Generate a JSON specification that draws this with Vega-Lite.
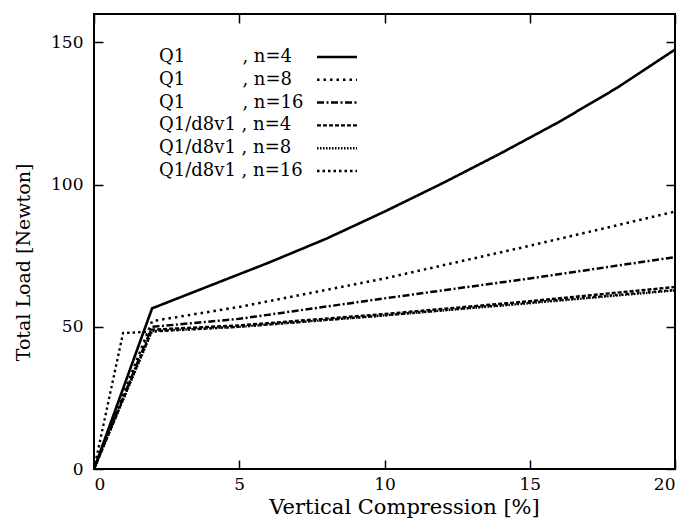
{
  "$schema": "https://vega.github.io/schema/vega-lite/v6.json",
  "width": 581,
  "height": 455,
  "autosize": "none",
  "padding": {"left": 94, "top": 14, "right": 12, "bottom": 58},
  "background": "white",
  "config": {
    "view": {"stroke": "black", "strokeWidth": 2},
    "font": "DejaVu Serif",
    "axis": {"grid": false, "domain": false, "tickColor": "black", "tickWidth": 1.5, "tickSize": -9, "labelFont": "DejaVu Serif", "labelFontSize": 17, "labelColor": "black", "titleFont": "DejaVu Serif", "titleFontWeight": "normal", "titleColor": "black"},
    "legend": {"labelFont": "DejaVu Serif"}
  },
  "datasets": {
    "curves": [
      {"series": "Q1\u00a0\u00a0\u00a0\u00a0\u00a0\u00a0\u00a0\u00a0\u00a0\u00a0, n=4", "x": 0, "y": 0},
      {"series": "Q1\u00a0\u00a0\u00a0\u00a0\u00a0\u00a0\u00a0\u00a0\u00a0\u00a0, n=4", "x": 2, "y": 56.5},
      {"series": "Q1\u00a0\u00a0\u00a0\u00a0\u00a0\u00a0\u00a0\u00a0\u00a0\u00a0, n=4", "x": 4, "y": 64.5},
      {"series": "Q1\u00a0\u00a0\u00a0\u00a0\u00a0\u00a0\u00a0\u00a0\u00a0\u00a0, n=4", "x": 6, "y": 72.5},
      {"series": "Q1\u00a0\u00a0\u00a0\u00a0\u00a0\u00a0\u00a0\u00a0\u00a0\u00a0, n=4", "x": 8, "y": 81},
      {"series": "Q1\u00a0\u00a0\u00a0\u00a0\u00a0\u00a0\u00a0\u00a0\u00a0\u00a0, n=4", "x": 10, "y": 90.5},
      {"series": "Q1\u00a0\u00a0\u00a0\u00a0\u00a0\u00a0\u00a0\u00a0\u00a0\u00a0, n=4", "x": 12, "y": 100.5},
      {"series": "Q1\u00a0\u00a0\u00a0\u00a0\u00a0\u00a0\u00a0\u00a0\u00a0\u00a0, n=4", "x": 14, "y": 111},
      {"series": "Q1\u00a0\u00a0\u00a0\u00a0\u00a0\u00a0\u00a0\u00a0\u00a0\u00a0, n=4", "x": 16, "y": 122},
      {"series": "Q1\u00a0\u00a0\u00a0\u00a0\u00a0\u00a0\u00a0\u00a0\u00a0\u00a0, n=4", "x": 18, "y": 134},
      {"series": "Q1\u00a0\u00a0\u00a0\u00a0\u00a0\u00a0\u00a0\u00a0\u00a0\u00a0, n=4", "x": 20, "y": 147.5},
      {"series": "Q1\u00a0\u00a0\u00a0\u00a0\u00a0\u00a0\u00a0\u00a0\u00a0\u00a0, n=8", "x": 0, "y": 0},
      {"series": "Q1\u00a0\u00a0\u00a0\u00a0\u00a0\u00a0\u00a0\u00a0\u00a0\u00a0, n=8", "x": 2, "y": 52},
      {"series": "Q1\u00a0\u00a0\u00a0\u00a0\u00a0\u00a0\u00a0\u00a0\u00a0\u00a0, n=8", "x": 5, "y": 57},
      {"series": "Q1\u00a0\u00a0\u00a0\u00a0\u00a0\u00a0\u00a0\u00a0\u00a0\u00a0, n=8", "x": 10, "y": 67},
      {"series": "Q1\u00a0\u00a0\u00a0\u00a0\u00a0\u00a0\u00a0\u00a0\u00a0\u00a0, n=8", "x": 15, "y": 78.5},
      {"series": "Q1\u00a0\u00a0\u00a0\u00a0\u00a0\u00a0\u00a0\u00a0\u00a0\u00a0, n=8", "x": 20, "y": 90.5},
      {"series": "Q1\u00a0\u00a0\u00a0\u00a0\u00a0\u00a0\u00a0\u00a0\u00a0\u00a0, n=16", "x": 0, "y": 0},
      {"series": "Q1\u00a0\u00a0\u00a0\u00a0\u00a0\u00a0\u00a0\u00a0\u00a0\u00a0, n=16", "x": 2, "y": 50},
      {"series": "Q1\u00a0\u00a0\u00a0\u00a0\u00a0\u00a0\u00a0\u00a0\u00a0\u00a0, n=16", "x": 5, "y": 52.8},
      {"series": "Q1\u00a0\u00a0\u00a0\u00a0\u00a0\u00a0\u00a0\u00a0\u00a0\u00a0, n=16", "x": 10, "y": 60},
      {"series": "Q1\u00a0\u00a0\u00a0\u00a0\u00a0\u00a0\u00a0\u00a0\u00a0\u00a0, n=16", "x": 15, "y": 67},
      {"series": "Q1\u00a0\u00a0\u00a0\u00a0\u00a0\u00a0\u00a0\u00a0\u00a0\u00a0, n=16", "x": 20, "y": 74.5},
      {"series": "Q1/d8v1\u00a0, n=4", "x": 0, "y": 0},
      {"series": "Q1/d8v1\u00a0, n=4", "x": 2, "y": 49},
      {"series": "Q1/d8v1\u00a0, n=4", "x": 5, "y": 50.5},
      {"series": "Q1/d8v1\u00a0, n=4", "x": 10, "y": 54.5},
      {"series": "Q1/d8v1\u00a0, n=4", "x": 15, "y": 59},
      {"series": "Q1/d8v1\u00a0, n=4", "x": 20, "y": 64},
      {"series": "Q1/d8v1\u00a0, n=8", "x": 0, "y": 0},
      {"series": "Q1/d8v1\u00a0, n=8", "x": 2, "y": 48.5},
      {"series": "Q1/d8v1\u00a0, n=8", "x": 5, "y": 50},
      {"series": "Q1/d8v1\u00a0, n=8", "x": 10, "y": 54},
      {"series": "Q1/d8v1\u00a0, n=8", "x": 15, "y": 58.3},
      {"series": "Q1/d8v1\u00a0, n=8", "x": 20, "y": 62.8},
      {"series": "Q1/d8v1\u00a0, n=16", "x": 0, "y": 0},
      {"series": "Q1/d8v1\u00a0, n=16", "x": 1, "y": 47.8},
      {"series": "Q1/d8v1\u00a0, n=16", "x": 2, "y": 48.3},
      {"series": "Q1/d8v1\u00a0, n=16", "x": 5, "y": 50},
      {"series": "Q1/d8v1\u00a0, n=16", "x": 10, "y": 54},
      {"series": "Q1/d8v1\u00a0, n=16", "x": 15, "y": 58.5},
      {"series": "Q1/d8v1\u00a0, n=16", "x": 20, "y": 63}
    ]
  },
  "data": {"name": "curves"},
  "layer": [
    {
      "mark": {"type": "line", "color": "black", "clip": true},
      "encoding": {
        "x": {"field": "x", "type": "quantitative", "scale": {"domain": [0, 20], "nice": false, "zero": false},
              "axis": {"values": [0, 5, 10, 15, 20], "title": "Vertical Compression [%]", "titleFont": "DejaVu Serif", "titleFontSize": 21, "labelPadding": 16, "titlePadding": 4, "titleX": 310}},
        "y": {"field": "y", "type": "quantitative", "scale": {"domain": [0, 160], "nice": false},
              "axis": {"values": [0, 50, 100, 150], "title": "Total Load [Newton]", "titleFont": "DejaVu Serif", "titleFontSize": 19, "labelPadding": 20, "titlePadding": 17, "titleY": 248}},
        "detail": {"field": "series"},
        "strokeDash": {"field": "series", "type": "nominal",
          "scale": {
            "domain": ["Q1\u00a0\u00a0\u00a0\u00a0\u00a0\u00a0\u00a0\u00a0\u00a0\u00a0, n=4", "Q1\u00a0\u00a0\u00a0\u00a0\u00a0\u00a0\u00a0\u00a0\u00a0\u00a0, n=8", "Q1\u00a0\u00a0\u00a0\u00a0\u00a0\u00a0\u00a0\u00a0\u00a0\u00a0, n=16", "Q1/d8v1\u00a0, n=4", "Q1/d8v1\u00a0, n=8", "Q1/d8v1\u00a0, n=16"],
            "range": [[1, 0], [2.5, 4], [7, 2.5, 2, 2.5], [4, 2], [1.5, 1.5], [2.5, 3]]
          },
          "legend": {
            "title": null, "orient": "none", "legendX": 234, "legendY": 34,
            "symbolType": "M-4,0H4", "symbolSize": 100, "symbolStrokeColor": "black", "symbolFillColor": "transparent", "symbolStrokeWidth": 2.5, "symbolOpacity": 1,
            "labelFontSize": 18, "labelColor": "black",
            "labelAlign": "left", "labelOffset": -187, "rowPadding": 4.8, "labelLimit": 400
          }
        },
        "strokeWidth": {"field": "series", "type": "nominal",
          "scale": {
            "domain": ["Q1\u00a0\u00a0\u00a0\u00a0\u00a0\u00a0\u00a0\u00a0\u00a0\u00a0, n=4", "Q1\u00a0\u00a0\u00a0\u00a0\u00a0\u00a0\u00a0\u00a0\u00a0\u00a0, n=8", "Q1\u00a0\u00a0\u00a0\u00a0\u00a0\u00a0\u00a0\u00a0\u00a0\u00a0, n=16", "Q1/d8v1\u00a0, n=4", "Q1/d8v1\u00a0, n=8", "Q1/d8v1\u00a0, n=16"],
            "range": [2.6, 2.3, 2.3, 2.3, 2.3, 2.3]
          },
          "legend": null
        }
      }
    },
    {
      "mark": {"type": "line", "opacity": 0},
      "encoding": {
        "x": {"field": "x", "type": "quantitative", "axis": {"orient": "top", "values": [0, 5, 10, 15, 20], "labels": false, "title": null}},
        "y": {"field": "y", "type": "quantitative", "axis": {"orient": "right", "values": [0, 50, 100, 150], "labels": false, "title": null}},
        "detail": {"field": "series"}
      }
    }
  ],
  "resolve": {"axis": {"x": "independent", "y": "independent"}}
}
